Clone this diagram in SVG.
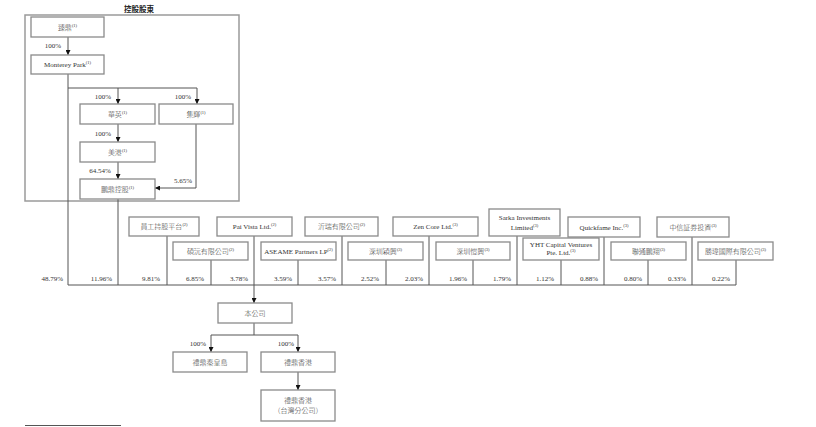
<svg xmlns="http://www.w3.org/2000/svg" width="816" height="427" viewBox="0 0 816 427">
<defs>
<marker id="ah" viewBox="0 0 6 6" refX="6" refY="3" markerWidth="5" markerHeight="5" orient="auto" markerUnits="userSpaceOnUse">
<path d="M0,0 L6,3 L0,6 z" fill="#111"/>
</marker>
<style>
.bx{fill:#fff;stroke:#8a8a8a;stroke-width:1.3}
.ol{fill:none;stroke:#9a9a9a;stroke-width:1.5}
.ln{fill:none;stroke:#555;stroke-width:1}
.ar{fill:none;stroke:#555;stroke-width:1;marker-end:url(#ah)}
text{font-family:"Liberation Serif","Noto Sans CJK TC",serif;font-size:7px;fill:#333;font-weight:300}
.c{text-anchor:middle}
.e{text-anchor:end}
.s{font-size:4.5px}
.t{font-weight:bold;font-size:7.5px;fill:#222}
</style>
</defs>
<rect width="816" height="427" fill="#fff"/>

<g id="controlling-group">
<text class="c t" x="139" y="12">控股股東</text>
<rect class="ol" x="25" y="15" width="214" height="186"/>
</g>

<g id="connectors">
<path class="ar" d="M68,37 V55"/>
<path class="ln" d="M68,74 V285"/>
<path class="ln" d="M68,88 H197"/>
<path class="ar" d="M118,88 V104"/>
<path class="ar" d="M197,88 V104"/>
<path class="ar" d="M118,124 V142"/>
<path class="ar" d="M118,162 V179"/>
<path class="ar" d="M196,124 V188 H155"/>
<path class="ln" d="M118,199 V285"/>
<path class="ln" d="M68,285 H736"/>
<path class="ln" d="M167,236 V285"/>
<path class="ln" d="M211,260 V285"/>
<path class="ar" d="M254,236 V303"/>
<path class="ln" d="M298,260 V285"/>
<path class="ln" d="M342,236 V285"/>
<path class="ln" d="M386,260 V285"/>
<path class="ln" d="M429,236 V285"/>
<path class="ln" d="M473,260 V285"/>
<path class="ln" d="M517,236 V285"/>
<path class="ln" d="M561,260 V285"/>
<path class="ln" d="M604,237 V285"/>
<path class="ln" d="M648,260 V285"/>
<path class="ln" d="M692,237 V285"/>
<path class="ln" d="M736,260 V285"/>
<path class="ln" d="M254,323 V335 M211,335 H298"/>
<path class="ar" d="M211,335 V352"/>
<path class="ar" d="M298,335 V352"/>
<path class="ar" d="M298,372 V390"/>
</g>

<g id="labels">
<text class="c" x="53" y="48">100%</text>
<text class="c" x="103" y="99">100%</text>
<text class="c" x="183" y="99">100%</text>
<text class="c" x="103" y="136">100%</text>
<text class="c" x="100" y="173">64.54%</text>
<text class="c" x="183" y="183">5.65%</text>
<text class="e" x="63" y="281">48.79%</text>
<text class="e" x="112" y="281">11.96%</text>
<text class="e" x="160" y="281">9.81%</text>
<text class="e" x="204" y="281">6.85%</text>
<text class="e" x="248" y="281">3.78%</text>
<text class="e" x="292" y="281">3.59%</text>
<text class="e" x="336" y="281">3.57%</text>
<text class="e" x="379" y="281">2.52%</text>
<text class="e" x="423" y="281">2.03%</text>
<text class="e" x="467" y="281">1.96%</text>
<text class="e" x="511" y="281">1.79%</text>
<text class="e" x="554" y="281">1.12%</text>
<text class="e" x="598" y="281">0.88%</text>
<text class="e" x="642" y="281">0.80%</text>
<text class="e" x="686" y="281">0.33%</text>
<text class="e" x="730" y="281">0.22%</text>
<text class="c" x="198" y="346">100%</text>
<text class="c" x="286" y="346">100%</text>
</g>

<g id="n-zhending"><rect class="bx" x="31" y="17" width="73" height="20"/><text class="c" x="67.5" y="29.5">臻鼎<tspan class="s" dy="-3">(1)</tspan></text></g>
<g id="n-monterey"><rect class="bx" x="31" y="55" width="73" height="19"/><text class="c" x="67.5" y="67">Monterey Park<tspan class="s" dy="-3">(1)</tspan></text></g>
<g id="n-huaying"><rect class="bx" x="80" y="104" width="75" height="20"/><text class="c" x="117.5" y="116.5">華英<tspan class="s" dy="-3">(1)</tspan></text></g>
<g id="n-jihui"><rect class="bx" x="159" y="104" width="74" height="20"/><text class="c" x="196" y="116.5">集輝<tspan class="s" dy="-3">(1)</tspan></text></g>
<g id="n-meigang"><rect class="bx" x="80" y="142" width="75" height="20"/><text class="c" x="117.5" y="154.5">美港<tspan class="s" dy="-3">(1)</tspan></text></g>
<g id="n-pengding"><rect class="bx" x="80" y="179" width="75" height="20"/><text class="c" x="117.5" y="191.5">鵬鼎控股<tspan class="s" dy="-3">(1)</tspan></text></g>

<g id="n-esop"><rect class="bx" x="129" y="217" width="70" height="19"/><text class="c" x="164" y="229">員工持股平台<tspan class="s" dy="-3">(2)</tspan></text></g>
<g id="n-paivista"><rect class="bx" x="217" y="217" width="75" height="19"/><text class="c" x="254.5" y="229">Pai Vista Ltd.<tspan class="s" dy="-3">(2)</tspan></text></g>
<g id="n-yirui"><rect class="bx" x="305" y="217" width="73" height="19"/><text class="c" x="341.5" y="229">沂瑞有限公司<tspan class="s" dy="-3">(2)</tspan></text></g>
<g id="n-zencore"><rect class="bx" x="393" y="217" width="85" height="19"/><text class="c" x="435.5" y="229">Zen Core Ltd.<tspan class="s" dy="-3">(3)</tspan></text></g>
<g id="n-sarka"><rect class="bx" x="489" y="209" width="71" height="27"/><text class="c" x="524.5" y="220">Sarka Investments</text><text class="c" x="524.5" y="229.5">Limited<tspan class="s" dy="-3">(3)</tspan></text></g>
<g id="n-quickfame"><rect class="bx" x="568" y="217" width="72" height="20"/><text class="c" x="604" y="229.5">Quickfame Inc.<tspan class="s" dy="-3">(3)</tspan></text></g>
<g id="n-citic"><rect class="bx" x="657" y="217" width="72" height="20"/><text class="c" x="693" y="229.5">中信証券投資<tspan class="s" dy="-3">(3)</tspan></text></g>

<g id="n-shuoyuan"><rect class="bx" x="173" y="242" width="75" height="18"/><text class="c" x="210.5" y="253.5">碩沅有限公司<tspan class="s" dy="-3">(2)</tspan></text></g>
<g id="n-aseame"><rect class="bx" x="261" y="242" width="75" height="18"/><text class="c" x="298.5" y="253.5">ASEAME Partners LP<tspan class="s" dy="-3">(2)</tspan></text></g>
<g id="n-szlingxing"><rect class="bx" x="348" y="242" width="75" height="18"/><text class="c" x="385.5" y="253.5">深圳穎興<tspan class="s" dy="-3">(3)</tspan></text></g>
<g id="n-szkaixing"><rect class="bx" x="436" y="242" width="74" height="18"/><text class="c" x="473" y="253.5">深圳愷興<tspan class="s" dy="-3">(3)</tspan></text></g>
<g id="n-yht"><rect class="bx" x="523" y="238" width="76" height="22"/><text class="c" x="561" y="246.5">YHT Capital Ventures</text><text class="c" x="561" y="255">Pte. Ltd.<tspan class="s" dy="-3">(3)</tspan></text></g>
<g id="n-liantong"><rect class="bx" x="611" y="242" width="75" height="18"/><text class="c" x="648.5" y="253.5">聯通鵬翔<tspan class="s" dy="-3">(3)</tspan></text></g>
<g id="n-shengwei"><rect class="bx" x="698" y="242" width="75" height="18"/><text class="c" x="735.5" y="253.5">勝瑋國際有限公司<tspan class="s" dy="-3">(3)</tspan></text></g>

<g id="n-company"><rect class="bx" x="218" y="303" width="74" height="20"/><text class="c" x="255" y="315.5">本公司</text></g>
<g id="n-qinhuangdao"><rect class="bx" x="173" y="352" width="74" height="20"/><text class="c" x="210" y="364.5">禮鼎秦皇島</text></g>
<g id="n-hk"><rect class="bx" x="261" y="352" width="74" height="20"/><text class="c" x="298" y="364.5">禮鼎香港</text></g>
<g id="n-tw"><rect class="bx" x="261" y="390" width="74" height="31"/><text class="c" x="298" y="403">禮鼎香港</text><text class="c" x="298" y="413">（台灣分公司）</text></g>

<path class="ln" d="M25,425.5 H121"/>
</svg>
